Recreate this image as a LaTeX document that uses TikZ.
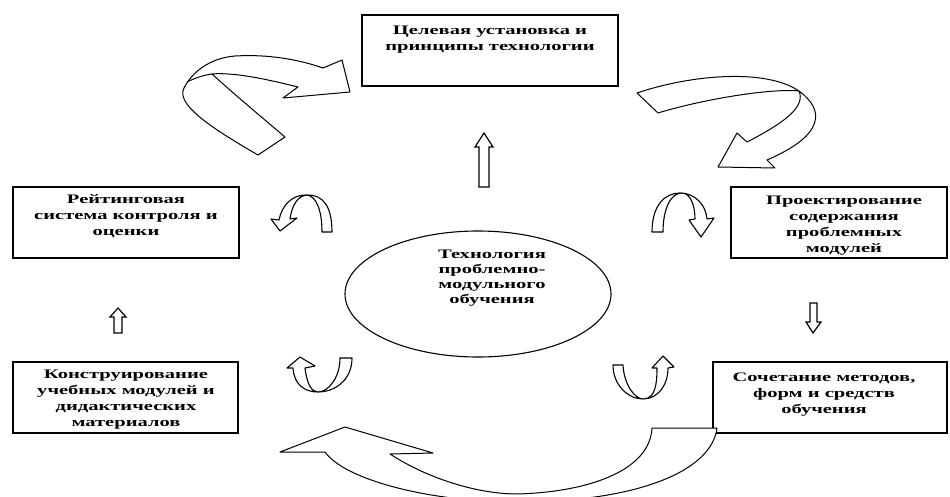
\documentclass[tikz,border=0pt]{standalone}
\usepackage{fontspec}
\setmainfont{Liberation Serif}[FakeStretch=1.58]
\usetikzlibrary{shapes.geometric}
\begin{document}
\begin{tikzpicture}[x=1pt,y=-1pt,
  box/.style={draw, line width=1.3pt, inner sep=0pt, minimum height=71pt},
  lbl/.style={font=\bfseries\fontsize{13}{16}\selectfont, align=center, inner sep=0pt, anchor=north},
  bigarrow/.style={draw, line width=1pt, fill=white, line join=round},
  smallarrow/.style={draw, line width=1.1pt, line join=round, line cap=round},
  hollow/.style={draw, line width=1.2pt, fill=white, line join=miter}]
\useasboundingbox (0,0) rectangle (950,497);

% boxes
\node[box, minimum width=256pt] (goal) at (490,50.5) {};
\node[lbl] (goalt) at (490,26) {Целевая установка и\\принципы технологии};

\node[box, minimum width=226pt] (rating) at (126,222.5) {};
\node[lbl] (ratingt) at (126,194) {Рейтинговая\\система контроля и\\оценки};

\node[box, minimum width=216pt] (design) at (839,222.5) {};
\node[lbl] (designt) at (844,196) {Проектирование\\содержания\\проблемных\\модулей};

\node[box, minimum width=225pt] (construct) at (125.5,397.5) {};
\node[lbl] (constructt) at (126,370) {Конструирование\\учебных модулей и\\дидактических\\материалов};

\node[box, minimum width=234pt] (combine) at (830,397.5) {};
\node[lbl] (combinet) at (824,373) {Сочетание методов,\\форм и средств\\обучения};

% central ellipse
\node[draw, ellipse, line width=1.1pt, minimum width=266pt, minimum height=126pt, inner sep=0pt] (core) at (478,294) {};
\node[lbl, font=\bfseries\fontsize{13}{15}\selectfont] (coret) at (492,250) {Технология\\проблемно-\\модульного\\обучения};

% big curved arrow, top left
\path[bigarrow] (258,155) .. controls (215,130) and (175,105) .. (184,88)
  .. controls (192,72) and (210,58) .. (235,56)
  .. controls (270,54) and (300,60) .. (323,68) -- (342,60) -- (350,92) -- (283,98) -- (298,87)
  .. controls (270,80) and (235,72) .. (212,74)
  .. controls (235,95) and (265,120) .. (285,137) -- cycle;
\draw[line width=1pt] (187,82) .. controls (195,78) and (204,75) .. (212,74);

% big curved arrow, top right
\path[bigarrow] (637,93) .. controls (690,75) and (765,68) .. (799,91)
  .. controls (825,110) and (825,135) .. (767,160) -- (775,168) -- (718,167) -- (737,133) -- (747,142)
  .. controls (790,120) and (805,105) .. (799,91)
  .. controls (770,88) and (700,100) .. (658,113) -- cycle;

% big curved arrow, bottom
\path[bigarrow] (280,452) -- (345,427) -- (433,453) -- (390,454)
  .. controls (430,480) and (480,494) .. (517,494)
  .. controls (590,492) and (650,470) .. (652,428) -- (717,428)
  .. controls (712,470) and (640,502) .. (517,502)
  .. controls (430,502) and (345,480) .. (325,452) -- cycle;

% small U arrows
\draw[smallarrow] (322,232) -- (332,232)
  .. controls (332,205) and (322,195) .. (308,195) .. controls (298,195) and (292,205) .. (290,219)
  -- (297,218) -- (280,231) -- (271,219) -- (279,220)
  .. controls (282,205) and (292,195) .. (306,195) .. controls (316,195) and (322,210) .. (322,232);

\draw[smallarrow] (652,232) -- (663,232)
  .. controls (663,210) and (670,193) .. (682,193) .. controls (690,193) and (695,205) .. (695,219)
  -- (689,220) -- (701,237) -- (714,218) -- (707,219)
  .. controls (706,205) and (695,193) .. (680,193) .. controls (665,193) and (652,205) .. (652,232);

\draw[smallarrow] (340,358) -- (352,358)
  .. controls (352,380) and (335,392) .. (318,392) .. controls (305,392) and (294,385) .. (293,368)
  -- (287,368) -- (300,357) -- (315,366) -- (305,368)
  .. controls (307,385) and (312,392) .. (318,392) .. controls (328,392) and (340,378) .. (340,358);

\draw[smallarrow] (613,365) -- (623,365)
  .. controls (624,385) and (635,399) .. (643,399) .. controls (658,399) and (668,385) .. (668,368)
  -- (674,367) -- (663,356) -- (652,368) -- (657,368)
  .. controls (657,385) and (655,399) .. (643,399) .. controls (628,399) and (613,385) .. (613,365);

% straight hollow arrows
\path[hollow] (479,187) -- (479,147) -- (475,147) -- (484,133) -- (493,147) -- (489,147) -- (489,187) -- cycle;
\path[hollow] (114,333) -- (114,317) -- (110,317) -- (118,308) -- (126,317) -- (122,317) -- (122,333) -- cycle;
\path[hollow] (810,303) -- (810,322) -- (806,322) -- (813,333) -- (821,322) -- (817,322) -- (817,303) -- cycle;
\end{tikzpicture}
\end{document}
